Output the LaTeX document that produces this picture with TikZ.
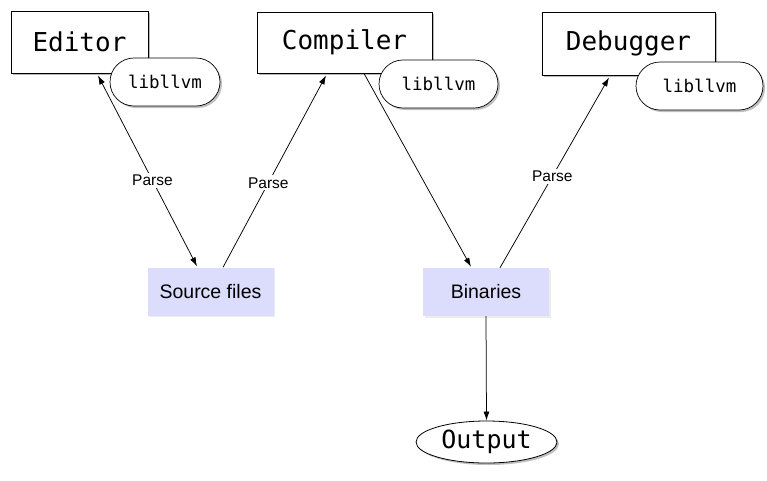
\documentclass[tikz,border=0pt]{standalone}
\usepackage{fontspec}
\setmainfont{Liberation Sans}
\setmonofont{DejaVu Sans Mono}
\usetikzlibrary{shapes.geometric,shadows,arrows.meta}
\definecolor{lav}{HTML}{DCDCFC}
\tikzset{
  prog/.style={draw=black, fill=white, line width=0.9pt, inner sep=0pt,
    font=\ttfamily\fontsize{26}{26}\selectfont,
    drop shadow={shadow xshift=2pt, shadow yshift=-2pt, opacity=0.55}},
  lib/.style={draw=black, fill=white, line width=0.7pt, rounded corners=24pt, inner sep=0pt,
    minimum height=48pt, font=\ttfamily\fontsize{17.5}{17.5}\selectfont,
    drop shadow={shadow xshift=2pt, shadow yshift=-2pt, opacity=0.5}},
  data/.style={fill=lav, inner sep=0pt, minimum height=48pt, minimum width=126pt,
    font=\fontsize{19.5}{19.5}\selectfont,
    drop shadow={shadow xshift=1.5pt, shadow yshift=-1.5pt, opacity=0.15}},
  outp/.style={ellipse, draw=black, fill=white, line width=0.8pt, inner sep=0pt,
    minimum width=141pt, minimum height=42pt, font=\ttfamily\fontsize{25}{25}\selectfont,
    drop shadow={shadow xshift=2pt, shadow yshift=-2pt, opacity=0.5}},
  conn/.style={line width=0.75pt, -{Latex[length=9pt,width=6pt]}},
  lbl/.style={fill=white, inner sep=2pt, font=\fontsize{15.5}{15.5}\selectfont}
}
\begin{document}
\begin{tikzpicture}[x=1pt,y=-1pt]
\useasboundingbox (0,0) rectangle (767,480);
\node[prog, minimum width=137pt, minimum height=62pt] (ed) at (79.5,42) {Editor};
\node[prog, minimum width=175pt, minimum height=61pt] (comp) at (344.5,42.5) {Compiler};
\node[prog, minimum width=173pt, minimum height=63pt] (dbg) at (628.5,43.5) {Debugger};
\node[data] (src) at (210.5,291.5) {Source files};
\node[data] (bin) at (486,292) {Binaries};
\node[outp] (out) at (486.5,442) {Output};

\draw[conn, {Latex[length=9pt,width=6pt]}-{Latex[length=9pt,width=6pt]}]
  ([xshift=18.5pt,yshift=-2pt]ed.south) -- node[lbl, pos=0.55] {Parse} ([xshift=-13.5pt,yshift=1pt]src.north);
\draw[conn] ([xshift=12.5pt]src.north) -- node[lbl, pos=0.44] {Parse} ([xshift=-18.5pt,yshift=-2pt]comp.south);
\draw[conn] ([xshift=19.5pt]comp.south) -- ([xshift=-15pt,yshift=1pt]bin.north);
\draw[conn] ([xshift=14pt]bin.north) -- node[lbl, pos=0.48] {Parse} ([xshift=-19.5pt,yshift=-2pt]dbg.south);
\draw[conn] (bin.south) -- (out.north);

\node[lib, minimum width=110pt] (edlib) at (165,82) {libllvm};
\node[lib, minimum width=119pt] (complib) at (438.5,84) {libllvm};
\node[lib, minimum width=127pt] (dbglib) at (699.5,86) {libllvm};
\end{tikzpicture}
\end{document}
